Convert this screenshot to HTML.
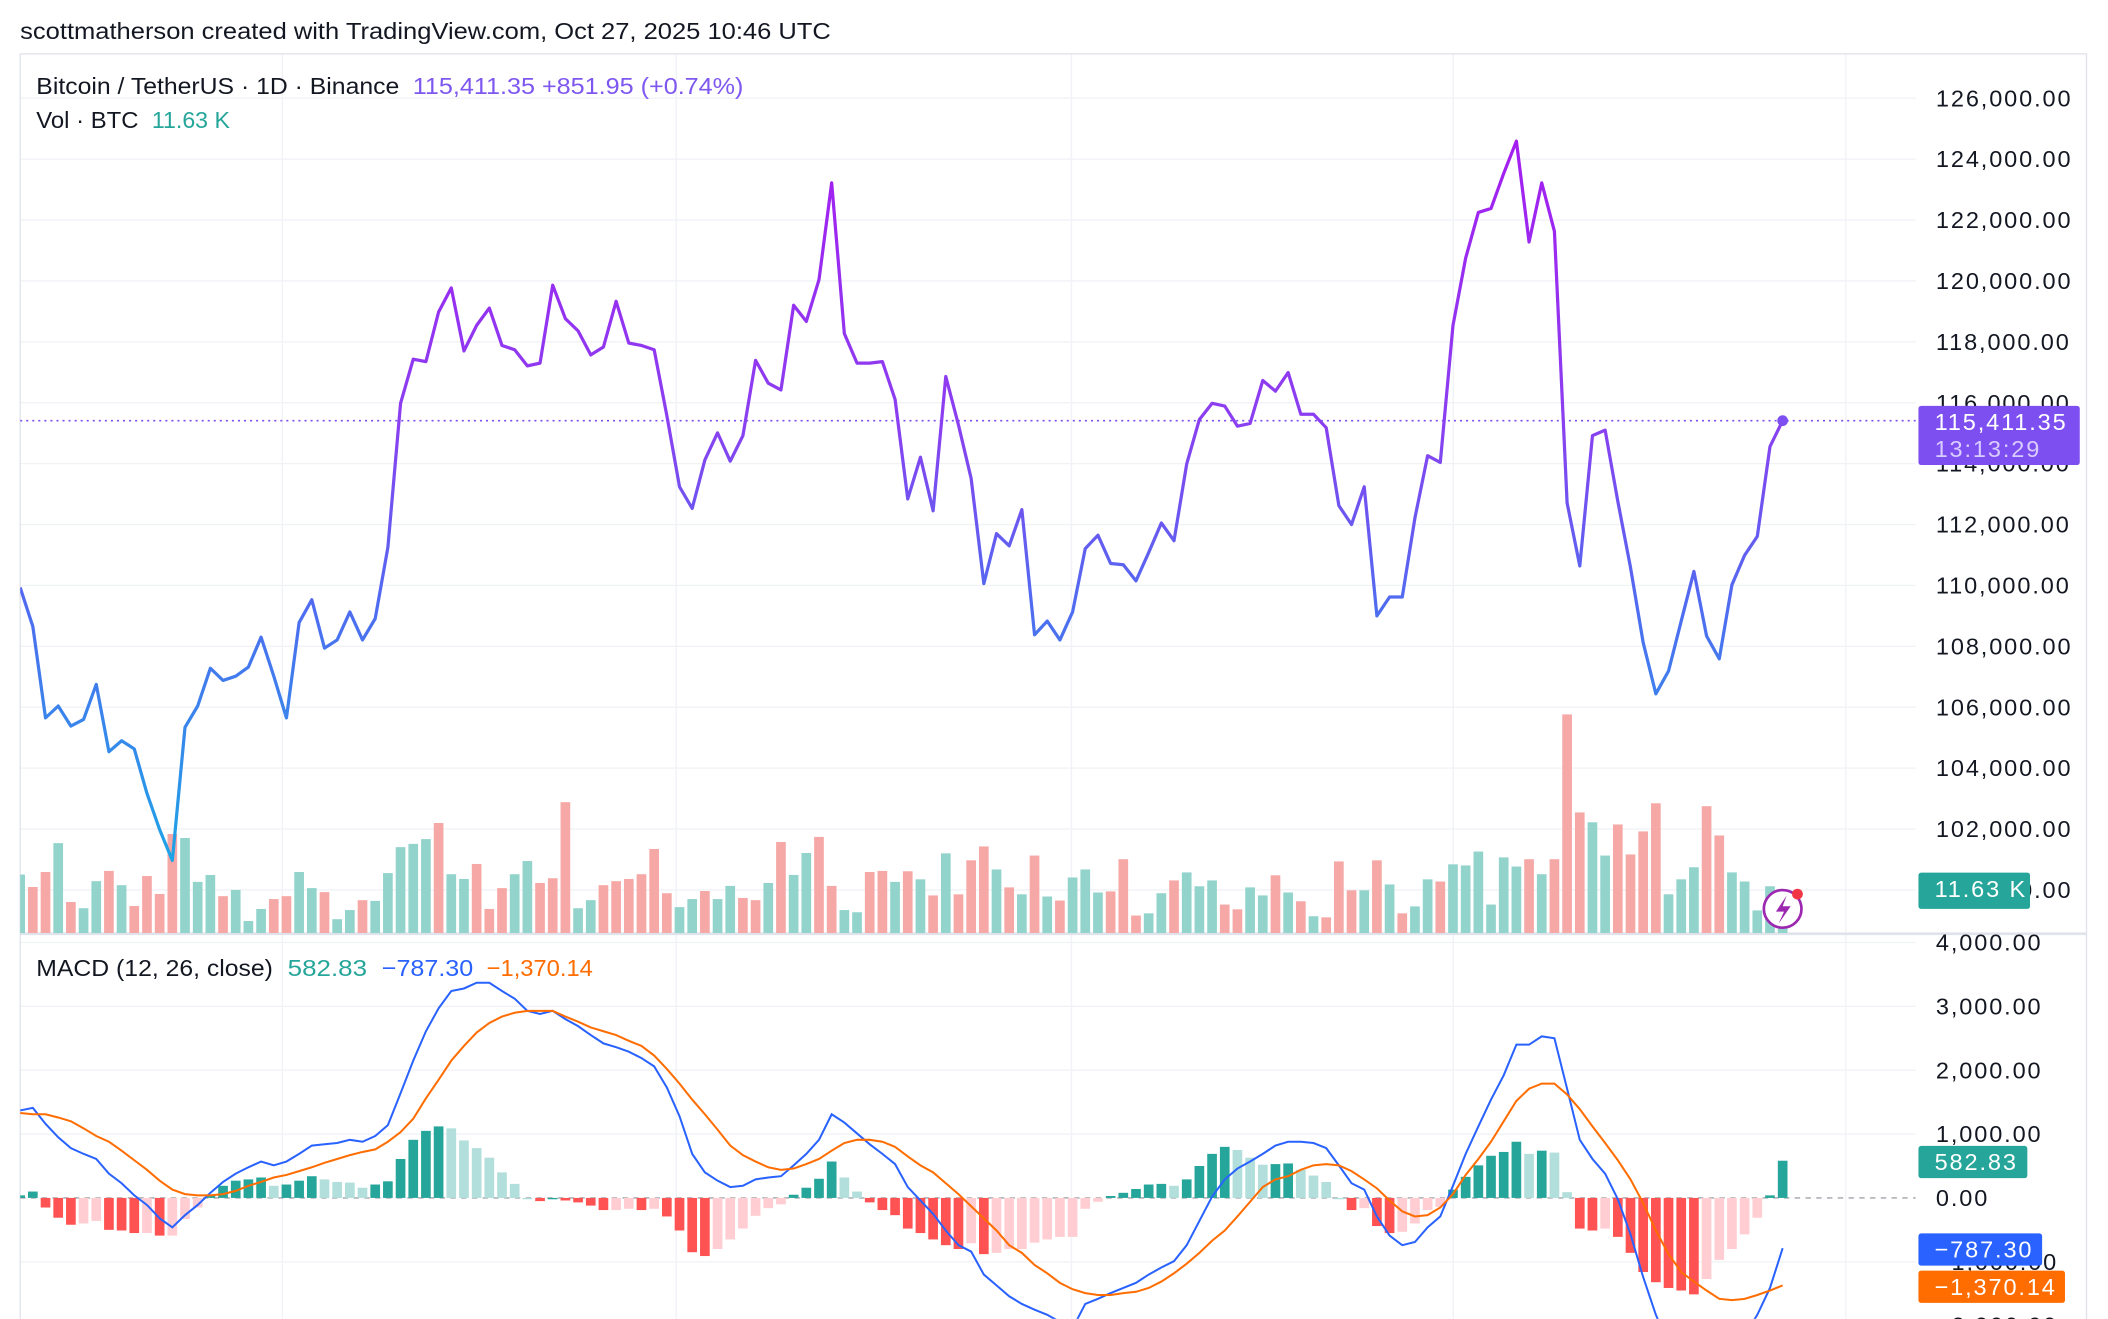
<!DOCTYPE html>
<html><head><meta charset="utf-8"><style>
html,body{margin:0;padding:0;background:#fff;}
svg{display:block;font-family:"Liberation Sans",sans-serif;}
</style></head><body>
<svg id="chart" width="2108" height="1319" viewBox="0 0 1568 981" xmlns="http://www.w3.org/2000/svg">
<defs>
<linearGradient id="pg" gradientUnits="userSpaceOnUse" x1="0" y1="100" x2="0" y2="640">
<stop offset="0" stop-color="#a51cf0"/><stop offset="0.4" stop-color="#8a40f0"/><stop offset="0.65" stop-color="#4f6cf0"/><stop offset="1" stop-color="#1ea4e6"/>
</linearGradient>
<clipPath id="pc"><rect x="15" y="40" width="1410" height="654"/></clipPath>
<clipPath id="mc"><rect x="15" y="695" width="1410" height="286"/></clipPath>
</defs>
<rect x="0" y="0" width="1568" height="981" fill="#fff"/>
<text x="15" y="29" font-size="17.5" fill="#131722" textLength="603" lengthAdjust="spacingAndGlyphs">scottmatherson created with TradingView.com, Oct 27, 2025 10:46 UTC</text>
<g id="grid"></g>
<rect x="15" y="40" width="1537" height="950" fill="none" stroke="#e0e3eb" stroke-width="1"/>
<line x1="15" y1="694.5" x2="1552" y2="694.5" stroke="#e0e3eb" stroke-width="2"/>
<g id="vol" clip-path="url(#pc)"></g>
<g id="price" clip-path="url(#pc)"></g>
<g id="macd" clip-path="url(#mc)"></g>
<g id="axis"></g>
<g font-size="17.5">
<text x="27" y="70" fill="#131722" textLength="270" lengthAdjust="spacingAndGlyphs">Bitcoin / TetherUS · 1D · Binance</text>
<text x="307" y="70" fill="#7e57f0" textLength="246" lengthAdjust="spacingAndGlyphs">115,411.35  +851.95 (+0.74%)</text>
<text x="27" y="95" fill="#131722" textLength="76" lengthAdjust="spacingAndGlyphs">Vol · BTC</text>
<text x="113" y="95" fill="#26a69a" textLength="58" lengthAdjust="spacingAndGlyphs">11.63 K</text>
</g>
<g font-size="17.5">
<text x="27" y="726" fill="#131722" textLength="176" lengthAdjust="spacingAndGlyphs">MACD (12, 26, close)</text>
<text x="214" y="726" fill="#26a69a" textLength="59" lengthAdjust="spacingAndGlyphs">582.83</text>
<text x="284" y="726" fill="#2962ff" textLength="68" lengthAdjust="spacingAndGlyphs">−787.30</text>
<text x="362" y="726" fill="#ff6d00" textLength="79" lengthAdjust="spacingAndGlyphs">−1,370.14</text>
</g>
<g id="tags"></g>
<g>
<circle cx="1326" cy="676" r="14" fill="#fff" stroke="#9c27b0" stroke-width="2"/>
<path d="M1329 666 L1321 678 L1327 678 L1323 687 L1332 674 L1326 674 Z" fill="#9c27b0"/>
<circle cx="1337" cy="665" r="4" fill="#f23645"/>
</g>
</svg>
<script>
const closes=[109930,108650,105650,106040,105380,105600,106750,104540,104900,104630,103170,101980,100970,105340,106040,107280,106880,107020,107320,108300,107020,105650,108780,109530,107940,108210,109130,108210,108910,111250,115980,117430,117350,118980,119770,117700,118540,119110,117880,117740,117210,117300,119860,118760,118360,117570,117830,119330,117960,117880,117740,115580,113240,112530,114120,115010,114080,114920,117390,116640,116420,119200,118670,120040,123220,118270,117300,117300,117350,116110,112840,114210,112450,116860,115270,113510,110060,111700,111300,112490,108380,108830,108210,109130,111210,111650,110720,110680,110150,111080,112050,111470,113990,115450,115980,115890,115230,115320,116730,116380,116990,115620,115620,115180,112620,112000,113240,109000,109620,109620,112220,114260,114040,118540,120750,122250,122380,123530,124590,121280,123220,121630,112710,110640,114920,115100,112760,110590,108120,106440,107190,108830,110460,108340,107590,110020,110990,111610,114560,115411.35];
const volumes=[16.0,12.6,16.7,24.6,8.5,6.8,14.2,17.0,13.1,7.4,15.6,10.7,27.1,26.0,14.0,15.9,10.1,11.8,3.3,6.6,9.3,10.1,16.7,12.3,11.2,3.8,6.3,9.0,8.8,16.4,23.5,24.4,25.7,30.1,16.1,14.8,18.9,6.6,12.3,16.1,19.7,13.7,15.0,35.8,6.8,9.0,13.1,14.2,14.8,16.1,23.0,10.9,7.1,9.3,11.5,9.3,12.9,9.6,9.0,13.7,24.9,15.9,21.9,26.3,12.9,6.3,5.7,16.7,17.0,14.0,16.9,14.7,10.3,21.8,10.6,19.9,23.7,17.4,12.5,10.6,21.2,10.0,8.9,15.2,17.4,11.1,11.4,20.2,4.8,5.4,10.9,14.4,16.6,12.8,14.4,7.8,6.5,12.5,10.3,15.8,11.1,8.7,4.6,4.3,19.6,11.7,11.7,19.9,13.3,5.4,7.3,14.7,14.1,18.8,18.5,22.3,7.8,20.7,18.2,20.2,16.1,20.2,59.8,33.0,30.3,21.2,29.7,21.5,27.8,35.5,10.6,14.7,18.0,34.7,26.7,16.6,14.1,6.2,12.8,11.63];
const volDir="grrgrggrgrrrrgggrgggrrggrggrgggggrggrrrggrrrggrrrrrrggrggrrgrggrrggrrg"+"rgrgrrrgrgrgrgggrrrggrgggrrggrgrgrrrgrgrggrggggggrgrrrggrrrrgggrrggggg";
const macdLine=[1370,1410,1160,950,780,690,610,380,230,40,-110,-320,-460,-270,-110,80,250,380,480,570,510,570,690,820,840,860,910,880,970,1140,1640,2150,2610,2970,3240,3280,3370,3370,3240,3120,2930,2880,2930,2800,2690,2550,2420,2360,2290,2190,2060,1730,1280,690,400,270,170,190,290,320,340,510,690,910,1310,1180,1010,840,690,530,170,-40,-250,-510,-740,-840,-1200,-1370,-1540,-1660,-1750,-1830,-1940,-2040,-1660,-1580,-1490,-1410,-1330,-1200,-1090,-990,-740,-360,20,290,460,570,690,820,880,880,860,780,510,230,130,-290,-590,-740,-690,-460,-290,190,690,1120,1540,1920,2400,2400,2530,2500,1710,910,610,380,-20,-570,-1240,-1830,-2290,-2610,-2820,-2720,-2550,-2400,-2150,-1830,-1410,-787.30];
const signalLine=[1330,1310,1310,1260,1200,1090,970,880,740,590,440,270,130,60,40,40,60,110,190,250,320,360,420,480,550,610,670,720,760,880,1030,1240,1560,1850,2150,2380,2590,2740,2840,2900,2930,2930,2930,2840,2760,2670,2610,2550,2460,2380,2230,2020,1790,1540,1310,1070,820,670,570,480,440,460,530,610,740,860,910,910,880,800,650,510,400,230,60,-130,-320,-510,-740,-860,-1050,-1180,-1330,-1430,-1490,-1520,-1520,-1490,-1470,-1410,-1310,-1180,-1030,-860,-670,-510,-290,-60,170,290,340,440,510,530,510,420,290,150,-40,-210,-290,-270,-150,60,360,610,880,1200,1520,1710,1790,1790,1620,1390,1120,860,590,290,-80,-510,-880,-1160,-1310,-1450,-1580,-1600,-1580,-1520,-1450,-1370.14];
const histBars=[40,100,-150,-310,-420,-400,-360,-500,-510,-550,-550,-590,-590,-330,-150,40,190,270,290,320,190,210,270,340,290,250,240,160,210,260,610,910,1050,1120,1090,900,780,630,400,220,0,-50,0,-40,-70,-120,-190,-190,-170,-190,-170,-290,-510,-850,-910,-800,-650,-480,-280,-160,-100,50,160,300,570,320,100,-70,-190,-270,-480,-550,-650,-740,-800,-710,-880,-860,-800,-800,-700,-650,-610,-610,-170,-60,30,80,140,210,220,190,290,500,690,800,750,630,520,530,540,440,350,250,0,-190,-160,-440,-550,-530,-400,-190,-140,130,330,510,660,720,880,690,740,710,90,-480,-510,-480,-610,-860,-1160,-1320,-1410,-1450,-1510,-1270,-970,-800,-570,-310,40,582.83];
const priceTicks=[126000,124000,122000,120000,118000,116000,114000,112000,110000,108000,106000,104000,102000,100000];
const macdTicks=[4000,3000,2000,1000,0,-1000,-2000];
const priceTickLabels=["126,000.00","124,000.00","122,000.00","120,000.00","118,000.00","116,000.00","114,000.00","112,000.00","110,000.00","108,000.00","106,000.00","104,000.00","102,000.00","100,000.00"];
const macdTickLabels=["4,000.00","3,000.00","2,000.00","1,000.00","0.00","−1,000.00","−2,000.00"];

const NS="http://www.w3.org/2000/svg";
function mk(tag,attrs,parent){const e=document.createElementNS(NS,tag);for(const k in attrs)e.setAttribute(k,attrs[k]);parent.appendChild(e);return e;}
const x0=15,step=(1326-15)/(closes.length-1);
function xOf(i){return x0+i*step;}
function yP(p){return 73+(126000-p)/2000*45.3;}
function yV(v){return 694-v*2.72;}
function yM(m){return 891-m*0.0475;}

const grid=document.getElementById('grid');
[210,503,797,1081,1373].forEach(x=>{const l=mk('line',{x1:x,y1:40,x2:x,y2:981,stroke:'#f0f2f6','stroke-width':1},grid);

});
const axis=document.getElementById('axis');
priceTicks.forEach((p,k)=>{const y=yP(p);
const l=mk('line',{x1:15,y1:y,x2:1425,y2:y,stroke:'#f0f2f6','stroke-width':1},grid);


const t=mk('text',{x:1440,y:y+6,'font-size':17.5,'letter-spacing':1.4,fill:'#131722'},axis);t.textContent=priceTickLabels[k];

});
macdTicks.forEach((m,k)=>{const y=yM(m);
if(m!==0){const l=mk('line',{x1:15,y1:y,x2:1425,y2:y,stroke:'#f0f2f6','stroke-width':1},grid);

}
const t=mk('text',{x:1440,y:y+6,'font-size':17.5,'letter-spacing':1.4,fill:'#131722'},axis);t.textContent=macdTickLabels[k];

});

const vol=document.getElementById('vol');
volumes.forEach((v,i)=>{const up=volDir[i]==='g';
const r=mk('rect',{x:xOf(i)-3.6,y:yV(v),width:7.2,height:694-yV(v),fill:up?'#92d3cc':'#f6a8a6'},vol);

});

const price=document.getElementById('price');
const dl=mk('line',{x1:15,y1:yP(closes[closes.length-1]),x2:1425,y2:yP(closes[closes.length-1]),stroke:'#7e4ff0','stroke-width':1.2,'stroke-dasharray':'1.5 3'},price);


const pl=mk('polyline',{points:closes.map((p,i)=>xOf(i)+','+yP(p)).join(' '),fill:'none',stroke:'url(#pg)','stroke-width':2.4,'stroke-linejoin':'round'},price);


const dot=mk('circle',{cx:xOf(closes.length-1),cy:yP(closes[closes.length-1]),r:4,fill:'#7e4ff0'},price);



const macd=document.getElementById('macd');
const zl=mk('line',{x1:15,y1:yM(0),x2:1425,y2:yM(0),stroke:'#a0a4ab','stroke-width':1,'stroke-dasharray':'4 4'},macd);


histBars.forEach((h,i)=>{const prev=i>0?histBars[i-1]:h;let c;
if(h>=0)c=h>=prev?'#26a69a':'#b2dfdb';else c=h<prev?'#ff5252':'#ffcdd2';
const y0=yM(0),y1=yM(h);
const r=mk('rect',{x:xOf(i)-3.6,y:Math.min(y0,y1),width:7.2,height:Math.max(1,Math.abs(y1-y0)),fill:c},macd);

});
const ml=mk('polyline',{points:macdLine.map((m,i)=>xOf(i)+','+yM(m)).join(' '),fill:'none',stroke:'#2962ff','stroke-width':1.5},macd);


const sl=mk('polyline',{points:signalLine.map((m,i)=>xOf(i)+','+yM(m)).join(' '),fill:'none',stroke:'#ff6d00','stroke-width':1.5},macd);



const tags=document.getElementById('tags');
function tag(name,x,y,w,h,fill,lines){const g=mk('g',{},tags);


mk('rect',{x:x,y:y,width:w,height:h,rx:2,fill:fill},g);
lines.forEach((s,k)=>{const t=mk('text',{x:x+12,y:y+18+k*20,'font-size':17.5,'letter-spacing':1.4,fill:k?'#d9ccff':'#fff'},g);t.textContent=s;});}
const lp=yP(closes[closes.length-1]);
tag('last-price-tag',1427,lp-11,120,44,'#7e4ff0',['115,411.35','13:13:29']);
tag('volume-tag',1427,649,83,27,'#26a69a',['11.63 K']);
tag('histogram-tag',1427,yM(histBars[histBars.length-1])-11,81,24,'#26a69a',['582.83']);
tag('macd-tag',1427,yM(macdLine[macdLine.length-1])-11,92,24,'#2962ff',['−787.30']);
tag('signal-tag',1427,yM(signalLine[signalLine.length-1])-11,109,24,'#ff6d00',['−1,370.14']);
</script>
</body></html>
